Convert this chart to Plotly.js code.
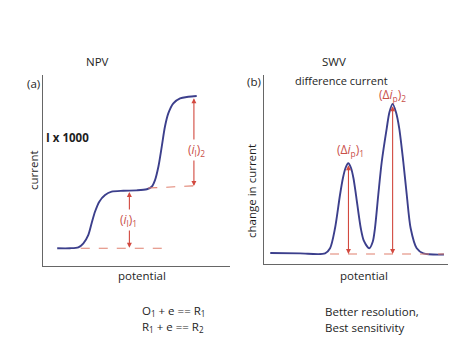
<!DOCTYPE html>
<html>
<head>
<meta charset="utf-8">
<script src="https://cdn.plot.ly/plotly-3.0.1.min.js"></script>
<style>html,body{margin:0;padding:0;background:#fff;}#chart{width:474px;height:355px;}</style>
</head>
<body>
<div id="chart"></div>
<script>
// ---- NPV (panel a) ----
const npvPotential = [7.6, 14.4, 18.9, 21.6, 24.2, 26.0, 27.8, 30.1, 33.2, 36.7, 42.9, 50.1, 55.5, 58.1, 59.9, 61.7, 63.5, 65.2, 67.0, 69.7, 73.3, 77.7, 82.2];
const npvCurrent   = [9.3, 9.3, 9.8, 11.9, 16.2, 22.4, 28.4, 33.7, 37.2, 38.9, 39.4, 39.6, 40.2, 41.5, 45.0, 52.0, 62.5, 72.9, 79.9, 85.2, 87.8, 88.6, 89.0];
const npvBaseX = [20.2, 66.2];
const npvBaseY = [9.3, 9.3];
const npvPlateauX = [56.3, 81.3];
const npvPlateauY = [40.8, 42.0];
const npvArrowX = [46.2, 80.7];
const npvArrowLow = [9.6, 41.9];
const npvArrowHigh = [39.5, 88.6];
const npvLabels = ["(<i>i</i><sub>l</sub>)<sub>1</sub>", "(<i>i</i><sub>l</sub>)<sub>2</sub>"];
const npvLabelY = [24.1, 60.5];
const npvLabelX = [45.9, 82.0];

// ---- SWV (panel b) ----
const swvPotential = [3.4, 19.6, 33.2, 35.9, 38.6, 41.3, 42.9, 44.3, 45.8, 47.3, 48.6, 50.0, 52.6, 54.3, 57.2, 59.1, 60.3, 62.1, 64.0, 66.7, 68.2, 69.9, 71.7, 73.5, 75.7, 77.6, 79.7, 83.0, 86.6, 97.8];
const swvDeltaI    = [5.8, 5.6, 5.6, 8.3, 18.9, 36.5, 45.5, 50.8, 53.3, 50.8, 45.5, 36.5, 18.9, 12.2, 8.3, 11.8, 18.9, 36.5, 54.1, 71.8, 80.4, 84.7, 80.4, 71.8, 54.1, 36.5, 18.9, 8.3, 5.6, 5.0];
const swvBaseX = [35.9, 97.8];
const swvBaseY = [5.3, 5.3];
const swvArrowX = [45.9, 69.9];
const swvArrowLow = [5.3, 5.3];
const swvArrowHigh = [53.0, 84.2];
const swvLabels = ["(Δ<i>i</i><sub>p</sub>)<sub>1</sub>", "(Δ<i>i</i><sub>p</sub>)<sub>2</sub>"];
const swvLabelX = [47.0, 69.8];
const swvLabelY = [60.2, 89.6];

const curveColor = '#3c3f8c';
const red = '#d2493f';
const dashRed = '#e0806f';
const txtRed = '#c9504a';
const FONT = 'Open Sans, Liberation Sans, sans-serif';

const traces = [
  {x: npvPotential, y: npvCurrent, xaxis:'x', yaxis:'y', mode:'lines', line:{color:curveColor, width:1.9, shape:'spline', smoothing:0.8}, hoverinfo:'skip'},
  {x: npvBaseX, y: npvBaseY, xaxis:'x', yaxis:'y', mode:'lines', line:{color:dashRed, width:1.1, dash:'dash'}},
  {x: npvPlateauX, y: npvPlateauY, xaxis:'x', yaxis:'y', mode:'lines', line:{color:dashRed, width:1.1, dash:'dash'}},
  {x: swvPotential, y: swvDeltaI, xaxis:'x2', yaxis:'y2', mode:'lines', line:{color:curveColor, width:1.9, shape:'spline', smoothing:0.8}, hoverinfo:'skip'},
  {x: swvBaseX, y: swvBaseY, xaxis:'x2', yaxis:'y2', mode:'lines', line:{color:dashRed, width:1.1, dash:'dash'}}
];

const W = 474, H = 355;
const px = v => v / W;
const py = v => 1 - v / H;

const ann = [];
function arrow(xr, yr, x, y0, y1) {
  ann.push({xref:xr, yref:yr, axref:xr, ayref:yr, x:x, y:y0, ax:x, ay:y1, text:'', showarrow:true,
    arrowhead:2, arrowside:'end+start', arrowsize:0.9, arrowwidth:1.1, arrowcolor:red, standoff:0, startstandoff:0});
}
for (let i = 0; i < 2; i++) arrow('x', 'y', npvArrowX[i], npvArrowLow[i], npvArrowHigh[i]);
for (let i = 0; i < 2; i++) arrow('x2', 'y2', swvArrowX[i], swvArrowLow[i], swvArrowHigh[i]);
for (let i = 0; i < 2; i++) ann.push({xref:'x', yref:'y', x:npvLabelX[i], y:npvLabelY[i], text:npvLabels[i], showarrow:false, bgcolor:'#ffffff', font:{family:FONT, size:12, color:txtRed}});
for (let i = 0; i < 2; i++) ann.push({xref:'x2', yref:'y2', x:swvLabelX[i], y:swvLabelY[i], text:swvLabels[i], showarrow:false, font:{family:FONT, size:12, color:txtRed}});

function txt(x, y, t, opts) {
  ann.push(Object.assign({xref:'paper', yref:'paper', x:px(x), y:py(y), text:t, showarrow:false,
    font:{family:FONT, size:11.5, color:'#1e1e1e'}, xanchor:'center', yanchor:'middle'}, opts || {}));
}
txt(97, 62, 'NPV');
txt(334, 62, 'SWV');
txt(33, 83, '(a)');
txt(254, 81, '(b)');
txt(341, 80, 'difference current', {font:{family:FONT, size:11, color:'#1e1e1e'}});
txt(67, 138, '<b>I x 1000</b>');
txt(33, 170, 'current', {textangle:-90});
txt(252, 191, 'change in current', {textangle:-90});
txt(142, 275, 'potential');
txt(364, 275, 'potential');
txt(140, 311, 'O<sub>1</sub> + e == R<sub>1</sub>', {xanchor:'left'});
txt(140, 327, 'R<sub>1</sub> + e == R<sub>2</sub>', {xanchor:'left'});
txt(323, 311, 'Better resolution,', {xanchor:'left'});
txt(323, 327, 'Best sensitivity', {xanchor:'left'});

const axBase = {range:[0,100], showgrid:false, zeroline:false, showticklabels:false, ticks:'', showline:true, linecolor:'#666', linewidth:1, fixedrange:true};

const layout = {
  width: W, height: H,
  margin: {l:0, r:0, t:0, b:0},
  paper_bgcolor:'#ffffff', plot_bgcolor:'#ffffff',
  showlegend:false,
  xaxis: Object.assign({}, axBase, {domain:[px(43), px(230)], anchor:'y'}),
  yaxis: Object.assign({}, axBase, {domain:[py(266), py(75)], anchor:'x'}),
  xaxis2: Object.assign({}, axBase, {domain:[px(264), px(448)], anchor:'y2'}),
  yaxis2: Object.assign({}, axBase, {domain:[py(264), py(75)], anchor:'x2'}),
  annotations: ann
};

Plotly.newPlot('chart', traces, layout, {displayModeBar:false, staticPlot:true});
</script>
</body>
</html>
